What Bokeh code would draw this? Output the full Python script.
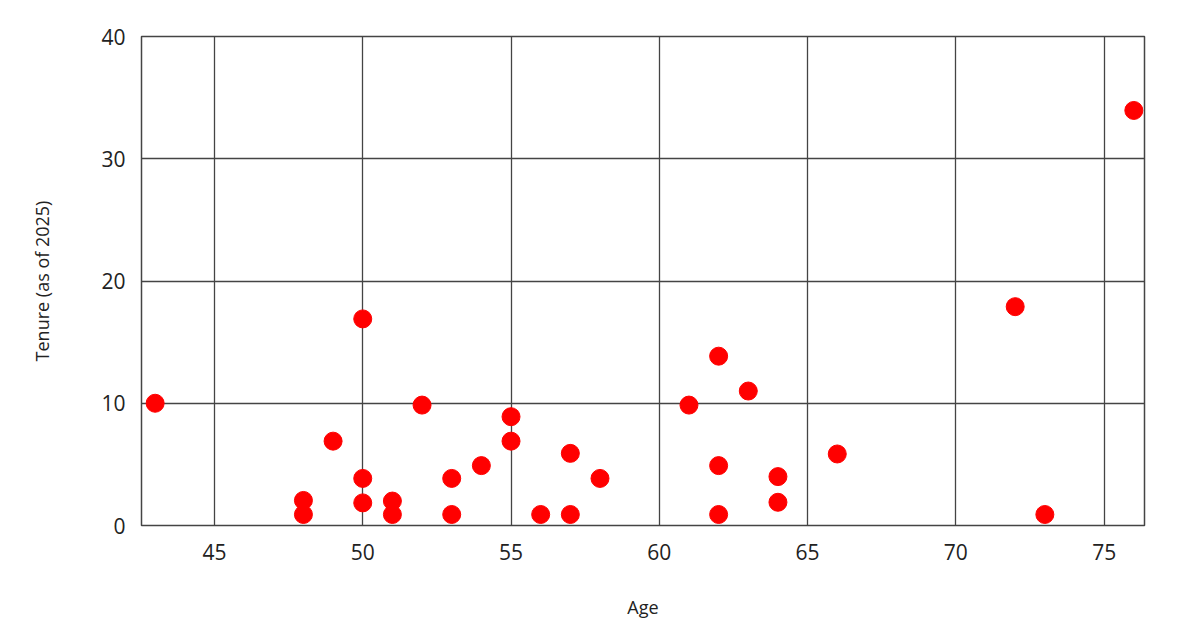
from bokeh.plotting import figure
from bokeh.models import FixedTicker, ColumnDataSource
from bokeh.embed import file_html
from bokeh.resources import INLINE

# Data (age, tenure as of 2025)
age = [43, 48, 48, 49, 50, 50, 50, 51, 51, 52, 53, 53, 54, 55, 55, 56, 57, 57, 58,
       61, 62, 62, 62, 63, 64, 64, 66, 72, 73, 76]
tenure = [10.0, 2.05, 0.9, 6.9, 16.9, 3.85, 1.85, 2.0, 0.9, 9.85, 3.85, 0.9, 4.9, 8.9, 6.9, 0.9, 5.9, 0.9, 3.85,
          9.85, 13.85, 4.9, 0.9, 11.0, 4.0, 1.9, 5.85, 17.9, 0.9, 33.95]
x_ticks = [45, 50, 55, 60, 65, 70, 75]
y_ticks = [0, 10, 20, 30, 40]

src = ColumnDataSource(dict(age=age, tenure=tenure))

p = figure(width=1171, height=630, output_backend="svg", toolbar_location=None,
           x_range=(42.54, 76.36), y_range=(0, 40),
           min_border_left=141, min_border_right=27, min_border_top=36, min_border_bottom=105,
           x_axis_label="Age", y_axis_label="Tenure (as of 2025)")

p.scatter("age", "tenure", source=src, size=18, color="#ff0000", line_color="#ff0000")

p.xaxis.ticker = FixedTicker(ticks=x_ticks)
p.yaxis.ticker = FixedTicker(ticks=y_ticks)

for ax in (p.xaxis[0], p.yaxis[0]):
    ax.axis_line_color = None
    ax.major_tick_line_color = None
    ax.minor_tick_line_color = None
    ax.major_label_text_font = "Open Sans"
    ax.major_label_text_font_size = "21px"
    ax.major_label_text_color = "#222222"
    ax.axis_label_text_font = "Open Sans"
    ax.axis_label_text_font_size = "18px"
    ax.axis_label_text_font_style = "normal"
    ax.axis_label_text_color = "#222222"

p.xaxis.major_label_standoff = 12
p.yaxis.major_label_standoff = 10
p.xaxis.axis_label_standoff = 32
p.yaxis.axis_label_standoff = 44

p.xgrid.grid_line_color = "#444444"
p.ygrid.grid_line_color = "#444444"
p.xgrid.grid_line_width = 1.3
p.ygrid.grid_line_width = 1.3
p.outline_line_color = "#444444"
p.outline_line_width = 1.5
p.background_fill_color = "white"
p.border_fill_color = "white"

open("out.html", "w").write(file_html(p, INLINE))
